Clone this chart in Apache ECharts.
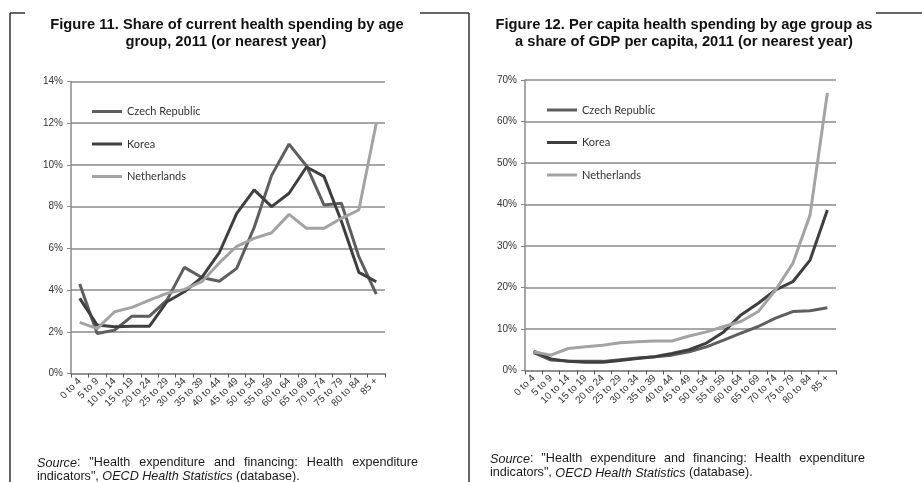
<!DOCTYPE html>
<html><head><meta charset="utf-8">
<script src="https://cdn.jsdelivr.net/npm/echarts@6/dist/echarts.min.js"></script>
<style>html,body{margin:0;padding:0;background:#fff}#c{width:922px;height:482px}</style>
</head><body><div id="c"></div>
<script>
// ---- data ----
const ageGroups = ['0 to 4','5 to 9','10 to 14','15 to 19','20 to 24','25 to 29','30 to 34','35 to 39','40 to 44','45 to 49','50 to 54','55 to 59','60 to 64','65 to 69','70 to 74','75 to 79','80 to 84','85 +'];
const seriesNames = ['Czech Republic','Korea','Netherlands'];
// Figure 11: share of current health spending (%)
const shareCzech       = [4.29, 1.92, 2.08, 2.75, 2.75, 3.52, 5.09, 4.6, 4.42, 5.04, 7.0, 9.5, 11.0, 9.95, 8.08, 8.16, 5.6, 3.8];
const shareKorea       = [3.6, 2.32, 2.24, 2.27, 2.27, 3.44, 3.92, 4.61, 5.79, 7.68, 8.8, 8.0, 8.64, 9.9, 9.45, 7.3, 4.85, 4.4];
const shareNetherlands = [2.45, 2.15, 2.96, 3.17, 3.52, 3.84, 4.03, 4.4, 5.3, 6.1, 6.48, 6.75, 7.63, 6.96, 6.96, 7.44, 7.84, 12.0];
// Figure 12: per capita spending as share of GDP per capita (%)
const gdpCzech       = [4.3, 2.5, 2.3, 2.2, 2.2, 2.6, 3.0, 3.3, 3.7, 4.5, 5.7, 7.3, 9.0, 10.6, 12.6, 14.2, 14.4, 15.1];
const gdpKorea       = [4.7, 2.8, 2.2, 2.0, 2.0, 2.4, 2.9, 3.3, 4.1, 5.0, 6.6, 9.3, 13.4, 16.2, 19.4, 21.4, 26.6, 38.7];
const gdpNetherlands = [4.5, 3.7, 5.3, 5.7, 6.1, 6.7, 6.9, 7.1, 7.1, 8.3, 9.3, 10.6, 11.8, 14.2, 19.4, 25.8, 37.5, 66.9];
const axis11 = {max: 14, interval: 2};
const axis12 = {max: 70, interval: 10};
const titles11 = ['Figure 11. Share of current health spending by age', 'group, 2011 (or nearest year)'];
const titles12 = ['Figure 12. Per capita health spending by age group as', 'a share of GDP per capita, 2011 (or nearest year)'];
const sourceLine1 = [[['Source', true], [':', false]], [['"Health', false]], [['expenditure', false]], [['and', false]], [['financing:', false]], [['Health', false]], [['expenditure', false]]];
const sourceLine2 = [['indicators", ', false], ['OECD Health Statistics', true], [' (database).', false]];

// ---- styling ----
const colors = ['#5e5e5e', '#3f3f3f', '#a3a3a3'];
const gridColor = '#8a8a8a';
const labelFont = '"Liberation Sans", Arial, sans-serif';
const srcFont = '"Liberation Sans", Arial, sans-serif';
const srcSize = 12.6;

const mctx = document.createElement('canvas').getContext('2d');
function fontStr(it) { return (it ? 'italic ' : '') + srcSize + 'px ' + srcFont; }
function measure(t, it) { mctx.font = fontStr(it); return mctx.measureText(t).width; }

function justifiedLine(words, x0, x1, y) {
  const widths = words.map(w => w.reduce((s, seg) => s + measure(seg[0], seg[1]), 0));
  const total = widths.reduce((a, b) => a + b, 0);
  const gap = (x1 - x0 - total) / (words.length - 1);
  const out = [];
  let x = x0;
  words.forEach((w, i) => {
    let sx = x;
    w.forEach(seg => {
      out.push({type: 'text', x: sx, y: y, style: {text: seg[0], font: fontStr(seg[1]), fill: '#1a1a1a', verticalAlign: 'middle'}});
      sx += measure(seg[0], seg[1]);
    });
    x += widths[i] + gap;
  });
  return out;
}
function plainLine(segs, x0, y) {
  const out = []; let x = x0;
  segs.forEach(seg => {
    out.push({type: 'text', x: x, y: y, style: {text: seg[0], font: fontStr(seg[1]), fill: '#1a1a1a', verticalAlign: 'middle'}});
    x += measure(seg[0], seg[1]);
  });
  return out;
}
function titleText(t, x, y) {
  return {type: 'text', x: x, y: y, style: {text: t, font: 'bold 14.7px ' + labelFont, fill: '#111', align: 'center', verticalAlign: 'middle'}};
}
function hline(x1, x2, y) { return {type: 'line', shape: {x1, y1: y, x2, y2: y}, style: {stroke: '#333', lineWidth: 1.5}}; }
function vline(x, y1, y2) { return {type: 'line', shape: {x1: x, y1, x2: x, y2}, style: {stroke: '#333', lineWidth: 1.5}}; }

const graphics = [
  hline(10, 25, 13), hline(420, 469, 13), hline(876, 922, 13),
  vline(10, 13, 482), vline(469, 13, 482),
  titleText(titles11[0], 227, 25), titleText(titles11[1], 226, 42),
  titleText(titles12[0], 684, 25), titleText(titles12[1], 684, 42),
  ...justifiedLine(sourceLine1, 37, 418, 463),
  ...plainLine(sourceLine2, 37, 476.5),
  ...justifiedLine(sourceLine1, 490, 865, 459),
  ...plainLine(sourceLine2, 490, 473)
];

function xAxis(gi) {
  return {
    type: 'category', gridIndex: gi, data: ageGroups, boundaryGap: true,
    axisLine: {lineStyle: {color: gridColor, width: 1.5}},
    axisTick: {show: true, length: 4, lineStyle: {color: '#555', width: 1}},
    axisLabel: {interval: 0, rotate: 45, fontSize: 10, color: '#333', fontFamily: labelFont, margin: 6}
  };
}
function yAxis(gi, cfg) {
  return {
    type: 'value', gridIndex: gi, min: 0, max: cfg.max, interval: cfg.interval,
    axisLine: {show: true, lineStyle: {color: gridColor, width: 1.5}},
    axisTick: {show: true, length: 4, lineStyle: {color: gridColor}},
    splitLine: {lineStyle: {color: gridColor, width: 1.5}},
    axisLabel: {formatter: '{value}%', fontSize: 10, color: '#333', fontFamily: labelFont, margin: 8}
  };
}
function line(name, data, gi, ci) {
  return {name, type: 'line', xAxisIndex: gi, yAxisIndex: gi, data, showSymbol: false, symbol: 'none',
    lineStyle: {color: colors[ci], width: 3}, itemStyle: {color: colors[ci]}, animation: false};
}
function legend(left, top) {
  return {orient: 'vertical', left, top, padding: 0, data: seriesNames, icon: 'rect', itemWidth: 30, itemHeight: 3,
    itemGap: 18.5, textStyle: {fontSize: 11, lineHeight: 14, color: '#333', fontFamily: 'Lato, sans-serif'}};
}

const chart = echarts.init(document.getElementById('c'), null, {renderer: 'canvas'});
chart.setOption({
  animation: false,
  backgroundColor: '#fff',
  grid: [
    {left: 71, top: 81.5, width: 314, height: 292},
    {left: 525, top: 80, width: 311, height: 290.5}
  ],
  xAxis: [xAxis(0), xAxis(1)],
  yAxis: [yAxis(0, axis11), yAxis(1, axis12)],
  legend: [legend(92, 104.5), legend(547, 103)],
  series: [
    line(seriesNames[0], shareCzech, 0, 0),
    line(seriesNames[1], shareKorea, 0, 1),
    line(seriesNames[2], shareNetherlands, 0, 2),
    line(seriesNames[0], gdpCzech, 1, 0),
    line(seriesNames[1], gdpKorea, 1, 1),
    line(seriesNames[2], gdpNetherlands, 1, 2)
  ],
  graphic: graphics
});
</script></body></html>
